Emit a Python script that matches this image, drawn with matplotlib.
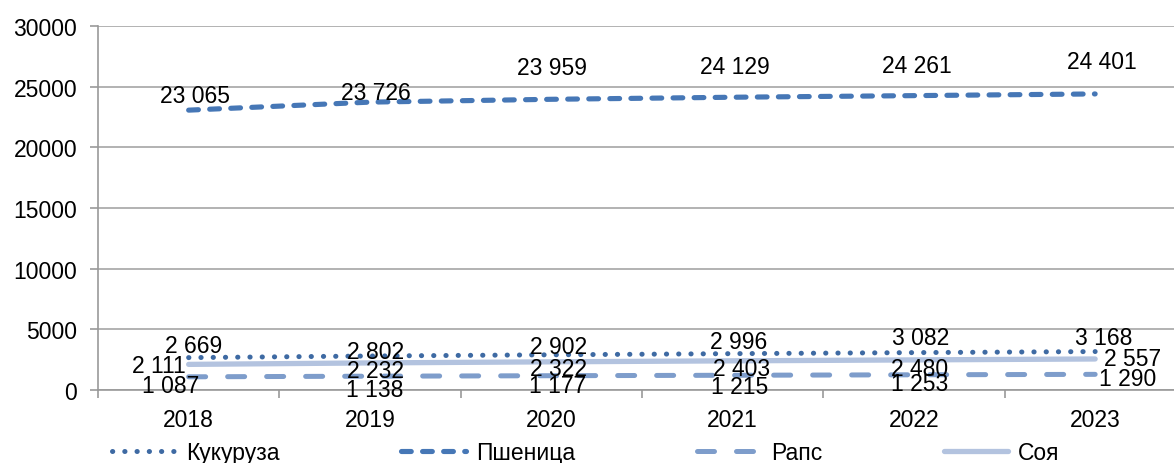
import matplotlib
matplotlib.use("Agg")
import matplotlib.pyplot as plt
from matplotlib.ticker import FixedLocator, FuncFormatter

plt.rcParams['font.family'] = ['Liberation Sans', 'DejaVu Sans']

years = ['2018', '2019', '2020', '2021', '2022', '2023']
corn = [2669, 2802, 2902, 2996, 3082, 3168]
wheat = [23065, 23726, 23959, 24129, 24261, 24401]
rapeseed = [1087, 1138, 1177, 1215, 1253, 1290]
soy = [2111, 2232, 2322, 2403, 2480, 2557]
names = ['Кукуруза', 'Пшеница', 'Рапс', 'Соя']
yticks = [0, 5000, 10000, 15000, 20000, 25000, 30000]

# label placement (pixel offsets dx, dy, horizontal alignment)
corn_lbl = [(5, 12, 'center'), (6, 5, 'center'), (7, 8, 'center'), (6, 12, 'center'), (7, 15, 'center'), (9, 14, 'center')]
wheat_lbl = [(6, 15, 'center'), (6, 10, 'center'), (1, 32, 'center'), (2, 31, 'center'), (3, 30, 'center'), (7, 32, 'center')]
rape_lbl = [(-18, -9, 'center'), (5, -13, 'center'), (6, -10, 'center'), (7, -11, 'center'), (6, -9, 'center'), (4, -4, 'left')]
soy_lbl = [(-3, -1, 'right'), (6, -8, 'center'), (7, -7, 'center'), (9, -8, 'center'), (6, -9, 'center'), (9, 0, 'left')]

W, H = 1174, 464
fig = plt.figure(figsize=(W / 100, H / 100), dpi=100)
ax = fig.add_axes([98 / W, (H - 391) / H, 6 * 181.3 / W, (391 - 27) / H])

x = list(range(len(years)))
c_corn = '#3E6AA3'
c_wheat = '#4677B6'
c_rape = '#7E9DCB'
c_soy = '#B3C3DF'

l1, = ax.plot(x, corn, color=c_corn, lw=3.6, linestyle=(0, (0.05, 2.4)),
              dash_capstyle='round', solid_capstyle='round', label=names[0], zorder=4)
l2, = ax.plot(x, wheat, color=c_wheat, lw=3.7, linestyle=(0, (1.9, 2.2)),
              dash_capstyle='round', label=names[1], zorder=4)
l3, = ax.plot(x, rapeseed, color=c_rape, lw=3.6, linestyle=(0, (3.4, 4.4)),
              dash_capstyle='round', label=names[2], zorder=3)
l4, = ax.plot(x, soy, color=c_soy, lw=3.8, solid_capstyle='round', label=names[3], zorder=2)

fs = 16.5

def fmt(v):
    return f"{v:,}".replace(',', ' ')

for series, lbls in [(corn, corn_lbl), (wheat, wheat_lbl), (rapeseed, rape_lbl), (soy, soy_lbl)]:
    for i, v in enumerate(series):
        dx, dy, ha = lbls[i]
        ax.annotate(fmt(v), (x[i], v), xytext=(dx, dy), textcoords='offset pixels',
                    ha=ha, va='center', fontsize=fs, color='black', zorder=6)

ax.set_xlim(-0.5, len(years) - 0.5)
ax.set_ylim(0, 30000)
ax.set_yticks(yticks)
ax.yaxis.set_major_formatter(FuncFormatter(lambda v, p: f"{int(v)}"))
ax.set_xticks(x)
ax.set_xticklabels(years)
ax.xaxis.set_minor_locator(FixedLocator([i + 0.5 for i in range(-1, len(years))]))
ax.tick_params(axis='x', which='major', length=0, pad=13, labelsize=fs)
ax.tick_params(axis='x', which='minor', length=6, width=1.2, color='#999999', direction='out')
ax.tick_params(axis='y', which='major', length=6, width=1.2, color='#999999', pad=9, labelsize=fs)

ax.grid(axis='y', color='#A6A6A6', lw=1.2)
ax.set_axisbelow(True)
for s in ['top', 'right']:
    ax.spines[s].set_visible(False)
for s in ['left', 'bottom']:
    ax.spines[s].set_color('#999999')
    ax.spines[s].set_linewidth(1.2)

fig.legend(handles=[l1, l2, l3, l4], loc='center left', bbox_to_anchor=(112 / W, 10 / H),
           ncol=4, frameon=False, fontsize=fs, handlelength=2.8, handletextpad=0.45,
           columnspacing=5.3, borderaxespad=0, borderpad=0)

fig.savefig('out.png', dpi=100)
